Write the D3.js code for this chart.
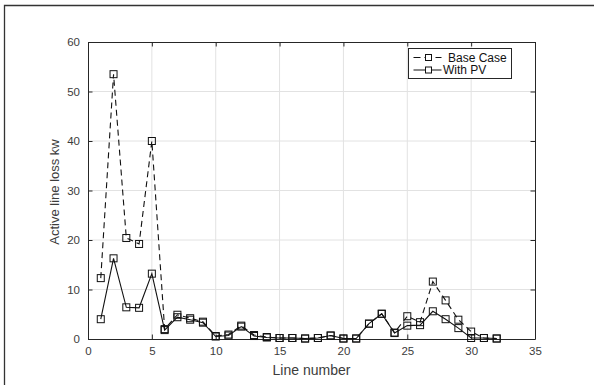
<!DOCTYPE html>
<html>
<head>
<meta charset="utf-8">
<script src="https://cdn.jsdelivr.net/npm/d3@7"></script>
<style>
  body { margin: 0; background: #fff; }
  svg { display: block; font-family: "Liberation Sans", Arial, sans-serif; }
</style>
</head>
<body>
<div id="chart"></div>
<script>
const lineNumbers = d3.range(1, 33);
const baseCase = [12.3, 53.5, 20.4, 19.2, 40.0, 2.0, 4.9, 4.2, 3.5, 0.6, 0.9, 2.7, 0.8, 0.4, 0.2, 0.2,
                  0.1, 0.2, 0.7, 0.1, 0.1, 3.1, 5.1, 1.3, 4.6, 3.4, 11.6, 7.8, 3.9, 1.5, 0.2, 0.1];
const withPV   = [4.0, 16.3, 6.4, 6.3, 13.2, 1.8, 4.4, 3.9, 3.3, 0.5, 0.7, 2.5, 0.6, 0.3, 0.2, 0.2,
                  0.1, 0.2, 0.7, 0.1, 0.1, 3.1, 5.1, 1.2, 2.7, 2.8, 5.6, 4.0, 2.2, 0.2, 0.2, 0.1];
const xTicks = [0, 5, 10, 15, 20, 25, 30, 35];
const yTicks = [0, 10, 20, 30, 40, 50, 60];
const seriesNames = ["Base Case", "With PV"];

const width = 594, height = 385;
const margin = { top: 42, right: 59, bottom: 46, left: 88 };
const innerWidth = width - margin.left - margin.right;
const innerHeight = height - margin.top - margin.bottom;
const axisColor = "#262626";
const textColor = "#3c3c3c";

const svg = d3.select("#chart").append("svg")
    .attr("width", width)
    .attr("height", height);

// outer figure frame (only left/top edges fall inside the picture)
svg.append("path")
    .attr("d", `M4.5,${height} V5.5 H${width}`)
    .attr("fill", "none")
    .attr("stroke", "#333")
    .attr("stroke-width", 1.3);

const g = svg.append("g")
    .attr("transform", `translate(${margin.left}, ${margin.top})`);

const x = d3.scaleLinear().domain([0, 35]).range([0, innerWidth]);
const y = d3.scaleLinear().domain([0, 60]).range([innerHeight, 0]);

// grid
g.append("g").selectAll("line")
    .data(xTicks.slice(1, -1))
    .enter().append("line")
    .attr("x1", d => x(d)).attr("x2", d => x(d))
    .attr("y1", 0).attr("y2", innerHeight)
    .attr("stroke", "#e2e2e2");
g.append("g").selectAll("line")
    .data(yTicks.slice(1, -1))
    .enter().append("line")
    .attr("x1", 0).attr("x2", innerWidth)
    .attr("y1", d => y(d)).attr("y2", d => y(d))
    .attr("stroke", "#e2e2e2");

// axes (MATLAB-style inward ticks, box on)
const tickLen = 4.5;
g.append("g")
    .attr("transform", `translate(0,${innerHeight})`)
    .call(d3.axisBottom(x).tickValues(xTicks).tickSizeInner(-tickLen).tickSizeOuter(0).tickPadding(8));
g.append("g")
    .call(d3.axisLeft(y).tickValues(yTicks).tickSizeInner(-tickLen).tickSizeOuter(0).tickPadding(8));
g.append("g")
    .attr("class", "mirror")
    .call(d3.axisTop(x).tickValues(xTicks).tickSizeInner(-tickLen).tickSizeOuter(0));
g.append("g")
    .attr("class", "mirror")
    .attr("transform", `translate(${innerWidth},0)`)
    .call(d3.axisRight(y).tickValues(yTicks).tickSizeInner(-tickLen).tickSizeOuter(0));
g.selectAll(".mirror text").remove();

g.selectAll(".domain").attr("stroke", axisColor);
g.selectAll(".tick line").attr("stroke", axisColor);
g.selectAll(".tick text").attr("fill", textColor).style("font-size", "11.5px");

// series
const line = d3.line()
    .x((d, i) => x(lineNumbers[i]))
    .y(d => y(d));

g.append("path")
    .datum(baseCase)
    .attr("fill", "none")
    .attr("stroke", "#111")
    .attr("stroke-width", 1.1)
    .attr("stroke-dasharray", "6 4")
    .attr("d", line);

g.append("path")
    .datum(withPV)
    .attr("fill", "none")
    .attr("stroke", "#111")
    .attr("stroke-width", 1.1)
    .attr("d", line);

const ms = 7;
[baseCase, withPV].forEach(series => {
    g.append("g").selectAll("rect")
        .data(series)
        .enter().append("rect")
        .attr("x", (d, i) => x(lineNumbers[i]) - ms / 2)
        .attr("y", d => y(d) - ms / 2)
        .attr("width", ms).attr("height", ms)
        .attr("fill", "none")
        .attr("stroke", "#111")
        .attr("stroke-width", 1);
});

// legend
const lg = svg.append("g").attr("transform", "translate(408.5, 48.5)");
lg.append("rect")
    .attr("width", 103).attr("height", 30)
    .attr("fill", "#fff")
    .attr("stroke", axisColor)
    .attr("stroke-width", 1);
seriesNames.forEach((name, i) => {
    const cy = 9 + i * 12.5;
    lg.append("line")
        .attr("x1", 5).attr("x2", 33)
        .attr("y1", cy).attr("y2", cy)
        .attr("stroke", "#111")
        .attr("stroke-dasharray", i === 0 ? "7 4" : null);
    lg.append("rect")
        .attr("x", 20 - 3).attr("y", cy - 3)
        .attr("width", 6).attr("height", 6)
        .attr("fill", "#fff").attr("stroke", "#111");
    lg.append("text")
        .attr("x", i === 0 ? 39.5 : 34.5)
        .attr("y", cy + 4.2)
        .attr("fill", "#111")
        .style("font-size", "12px")
        .text(name);
});

// axis labels
g.append("text")
    .attr("text-anchor", "middle")
    .attr("x", innerWidth / 2)
    .attr("y", innerHeight + 36)
    .attr("fill", textColor)
    .style("font-size", "14px")
    .text("Line number");

g.append("text")
    .attr("text-anchor", "middle")
    .attr("transform", "rotate(-90)")
    .attr("x", -(192 - margin.top))
    .attr("y", -(margin.left - 59))
    .attr("fill", textColor)
    .style("font-size", "13px")
    .text("Active line loss kw");
</script>
</body>
</html>
